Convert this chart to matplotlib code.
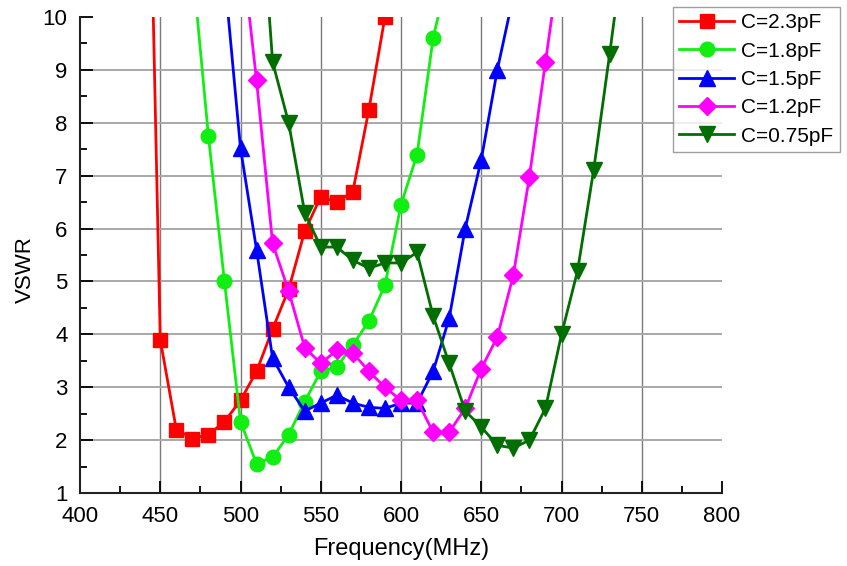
import matplotlib
matplotlib.use("Agg")
import matplotlib.pyplot as plt
import numpy as np

# ---- data ----
freq_23 = [440, 450, 460, 470, 480, 490, 500, 510, 520, 530, 540, 550, 560, 570, 580, 590]
vswr_23 = [18.0, 3.9, 2.2, 2.03, 2.1, 2.35, 2.75, 3.3, 4.1, 4.85, 5.95, 6.6, 6.5, 6.7, 8.25, 10.0]

freq_18 = [470, 480, 490, 500, 510, 520, 530, 540, 550, 560, 570, 580, 590, 600, 610, 620, 630]
vswr_18 = [11.0, 7.75, 5.0, 2.35, 1.55, 1.68, 2.1, 2.73, 3.3, 3.38, 3.8, 4.25, 4.93, 6.45, 7.4, 9.6, 10.9]

freq_15 = [490, 500, 510, 520, 530, 540, 550, 560, 570, 580, 590, 600, 610, 620, 630, 640, 650, 660, 670]
vswr_15 = [10.8, 7.52, 5.6, 3.55, 3.0, 2.55, 2.7, 2.85, 2.7, 2.62, 2.6, 2.7, 2.7, 3.3, 4.3, 6.0, 7.3, 9.0, 10.4]

freq_12 = [500, 510, 520, 530, 540, 550, 560, 570, 580, 590, 600, 610, 620, 630, 640, 650, 660, 670, 680, 690, 700]
vswr_12 = [11.5, 8.8, 5.72, 4.82, 3.75, 3.45, 3.7, 3.65, 3.3, 3.0, 2.75, 2.75, 2.15, 2.15, 2.6, 3.35, 3.95, 5.12, 6.98, 9.15, 11.3]

freq_075 = [510, 520, 530, 540, 550, 560, 570, 580, 590, 600, 610, 620, 630, 640, 650, 660, 670, 680, 690, 700, 710, 720, 730, 740]
vswr_075 = [13.4, 9.15, 8.0, 6.3, 5.65, 5.65, 5.4, 5.25, 5.35, 5.35, 5.55, 4.35, 3.45, 2.55, 2.25, 1.9, 1.85, 2.0, 2.6, 4.0, 5.2, 7.1, 9.3, 11.6]

labels = ["C=2.3pF", "C=1.8pF", "C=1.5pF", "C=1.2pF", "C=0.75pF"]
x_ticks = [400, 450, 500, 550, 600, 650, 700, 750, 800]
y_ticks = [1, 2, 3, 4, 5, 6, 7, 8, 9, 10]

series = [
    (freq_23, vswr_23, "#FF0000", "s", 9.5),
    (freq_18, vswr_18, "#11EE11", "o", 10.5),
    (freq_15, vswr_15, "#0000FF", "^", 11.5),
    (freq_12, vswr_12, "#FF00FF", "D", 9.5),
    (freq_075, vswr_075, "#006E00", "v", 11.5),
]

plt.rcParams["font.family"] = ["Liberation Sans", "DejaVu Sans"]

fig = plt.figure(figsize=(8.47, 5.66), dpi=100)
ax = fig.add_axes([80 / 847, 1 - 493 / 566, (722 - 80) / 847, (493 - 17) / 566])

# grid (interior only)
for xv in x_ticks[1:-1]:
    ax.axvline(xv, color="#7a7a7a", lw=1.0, zorder=1)
for yv in y_ticks[1:-1]:
    ax.axhline(yv, color="#a8a8a8", lw=1.4, zorder=1)

for (fx, fy, col, mk, ms), lab in zip(series, labels):
    ax.plot(fx, fy, color=col, marker=mk, markersize=ms, lw=2.0,
            markeredgecolor=col, markerfacecolor=col, label=lab, zorder=3)

ax.set_xlim(400, 800)
ax.set_ylim(1, 10)
ax.set_xticks(x_ticks)
ax.set_yticks(y_ticks)
ax.set_xticks(np.arange(425, 800, 50), minor=True)
ax.set_yticks(np.arange(1.5, 10, 1.0), minor=True)
ax.tick_params(which="major", direction="in", length=9, width=1.3, labelsize=16)
ax.tick_params(axis="x", which="major", pad=9)
ax.tick_params(axis="y", which="major", pad=9)
ax.tick_params(which="minor", direction="in", length=5, width=1.3)

for s in ["top", "right"]:
    ax.spines[s].set_visible(False)
for s in ["left", "bottom"]:
    ax.spines[s].set_linewidth(1.5)
    ax.spines[s].set_color("#222222")

ax.set_xlabel("Frequency(MHz)", fontsize=17, va="top")
ax.xaxis.set_label_coords(0.5, (493 - 538) / 476)
ax.set_ylabel("VSWR", fontsize=16)
ax.yaxis.set_label_coords((36 - 80) / 642, (493 - 270) / 476)

leg = fig.legend(loc="upper left", bbox_to_anchor=(673 / 847, 1 - 7 / 566),
                 fontsize=15, frameon=True, fancybox=False, edgecolor="#888888",
                 handlelength=2.65, handletextpad=0.33, labelspacing=0.45,
                 borderpad=0.3, borderaxespad=0.0)
leg.get_frame().set_linewidth(1.0)

fig.savefig("out.png", dpi=100)
